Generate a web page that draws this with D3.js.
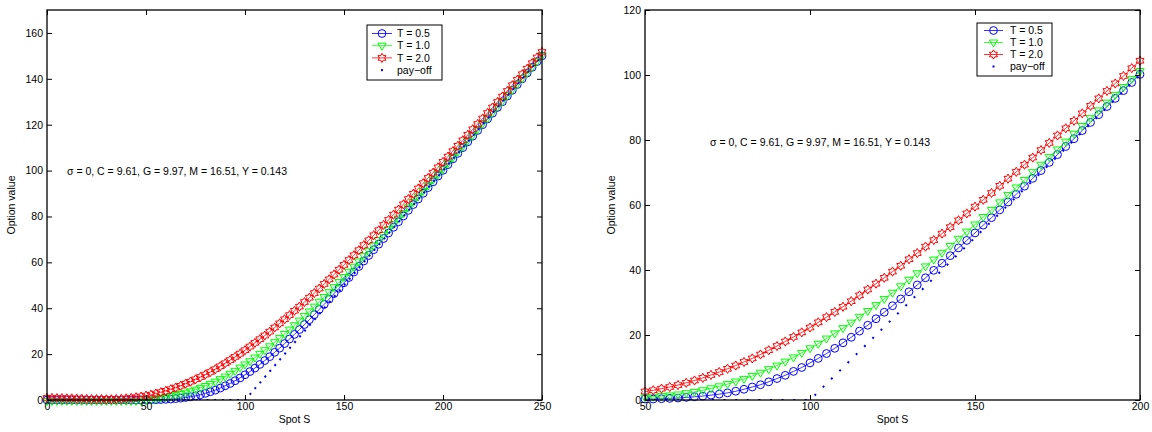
<!DOCTYPE html>
<html>
<head>
<meta charset="utf-8">
<script src="https://cdn.jsdelivr.net/npm/d3@7"></script>
<style>
  body { margin: 0; background: #fff; }
  text { font-family: "Liberation Sans", Arial, Helvetica, sans-serif; fill: #000; }
</style>
</head>
<body>
<script>
'use strict';

var width = 1152,
    height = 432;

// ---- data ----
// left panel: spot grid 0..250
var leftS = d3.range(0, 251, 2.5);
var leftT05 = [0,0,0,0,0,0,0,0,0,0,0,0,0,0,0,0,0,0,0,0,0,
  0.1,0.1,0.2,0.3,0.4,0.6,0.8,1.1,1.4,1.8,2.3,2.9,3.6,4.3,5.2,6.2,7.2,8.4,9.6,11.0,
  12.4,13.9,15.5,17.2,18.9,20.8,22.6,24.6,26.6,28.6,30.7,32.9,35.0,37.2,39.5,41.7,44.0,46.4,48.7,51.1,
  53.4,55.8,58.2,60.6,63.0,65.5,67.9,70.4,72.8,75.3,77.7,80.2,82.7,85.2,87.6,90.1,92.6,95.1,97.6,100.1,
  102.6,105.1,107.5,110.0,112.5,115.0,117.5,120.0,122.5,125.0,127.5,130.0,132.5,135.0,137.5,140.0,142.5,145.0,147.5,150.0];
var leftT10 = [-0.4,-0.4,-0.4,-0.4,-0.4,-0.4,-0.4,-0.4,-0.4,-0.4,-0.4,-0.4,-0.4,-0.4,-0.4,-0.4,-0.4,-0.4,-0.4,-0.3,-0.1,
  0.2,0.5,0.9,1.3,1.7,2.1,2.6,3.2,3.8,4.5,5.3,6.1,7.0,8.0,9.1,10.2,11.4,12.7,14.1,15.5,
  16.9,18.5,20.1,21.7,23.4,25.2,27.0,28.8,30.7,32.6,34.6,36.6,38.6,40.7,42.8,44.9,47.0,49.2,51.4,53.6,
  55.9,58.1,60.4,62.7,65.0,67.3,69.7,72.0,74.4,76.7,79.1,81.5,83.9,86.3,88.7,91.1,93.5,96.0,98.4,100.8,
  103.3,105.7,108.2,110.6,113.1,115.5,118.0,120.5,122.9,125.4,127.9,130.3,132.8,135.3,137.8,140.3,142.7,145.2,147.7,150.2];
var leftT20 = [0.9,0.9,0.8,0.8,0.7,0.7,0.6,0.6,0.5,0.4,0.4,0.4,0.3,0.3,0.4,0.5,0.7,0.9,1.2,1.5,1.9,
  2.3,2.8,3.4,4.0,4.7,5.4,6.2,7.1,8.0,9.0,10.0,11.1,12.2,13.4,14.7,16.0,17.4,18.8,20.2,21.7,
  23.3,24.9,26.5,28.1,29.8,31.6,33.4,35.2,37.0,38.9,40.7,42.7,44.6,46.6,48.6,50.6,52.6,54.7,56.8,58.9,
  61.0,63.1,65.3,67.5,69.6,71.8,74.0,76.3,78.5,80.8,83.0,85.3,87.6,89.9,92.2,94.5,96.8,99.1,101.4,103.8,
  106.1,108.5,110.8,113.2,115.6,118.0,120.3,122.7,125.1,127.5,129.9,132.3,134.7,137.2,139.6,142.0,144.4,146.8,149.3,151.7];

// right panel: spot grid 50..200
var rightS = d3.range(50, 201, 2.5);
var rightT05 = [0.3,0.3,0.4,0.5,0.6,0.8,1.0,1.2,1.5,1.8,2.2,2.7,3.3,4.0,4.7,5.6,6.6,7.6,8.8,10.0,11.4,
  12.8,14.3,15.9,17.6,19.3,21.2,23.0,25.0,27.0,29.0,31.1,33.3,35.4,37.6,39.9,42.1,44.4,46.8,49.1,51.4,
  53.8,56.1,58.5,60.9,63.3,65.8,68.2,70.6,73.1,75.5,78.0,80.4,82.9,85.4,87.8,90.3,92.8,95.2,97.7,100.2];
var rightT10 = [0.8,1.0,1.2,1.4,1.7,2.1,2.5,3.0,3.6,4.2,4.9,5.7,6.5,7.4,8.4,9.5,10.6,11.8,13.1,14.5,15.9,
  17.3,18.9,20.5,22.1,23.8,25.6,27.4,29.2,31.1,33.0,35.0,37.0,39.0,41.1,43.2,45.3,47.4,49.6,51.8,54.0,
  56.3,58.5,60.8,63.1,65.4,67.7,70.1,72.4,74.8,77.1,79.5,81.9,84.3,86.7,89.1,91.5,93.9,96.3,98.8,101.2];
var rightT20 = [2.6,3.0,3.5,4.0,4.6,5.3,6.0,6.8,7.7,8.6,9.6,10.6,11.7,12.8,14.0,15.3,16.6,18.0,19.4,20.8,22.3,
  23.9,25.5,27.1,28.7,30.4,32.2,34.0,35.8,37.6,39.5,41.3,43.3,45.2,47.2,49.2,51.2,53.2,55.3,57.4,59.5,
  61.6,63.7,65.9,68.1,70.2,72.4,74.6,76.9,79.1,81.4,83.6,85.9,88.2,90.5,92.8,95.1,97.4,99.7,102.1,104.4];

// pay-off kinks (strike 100)
var payoffS = [0, 100, 250];
var payoffV = [0, 0, 150];

var seriesNames = ['T = 0.5', 'T = 1.0', 'T = 2.0', 'pay\u2212off'];
var seriesColors = ['#0000ff', '#00ff00', '#ff0000'];
var seriesMarks = ['circle', 'tri', 'hex'];

var leftXTicks = [0, 50, 100, 150, 200, 250];
var leftYTicks = [0, 20, 40, 60, 80, 100, 120, 140, 160];
var rightXTicks = [50, 100, 150, 200];
var rightYTicks = [0, 20, 40, 60, 80, 100, 120];

var note = '\u03c3 = 0, C = 9.61, G = 9.97, M = 16.51, Y = 0.143';

// ---- drawing ----
var svg = d3.select('body').append('svg')
    .attr('width', width)
    .attr('height', height);

function hexagram(r) {
  var pts = [];
  for (var k = 0; k < 12; k++) {
    var a = -Math.PI / 2 + k * Math.PI / 6;
    var rr = (k % 2 === 0) ? r : r / Math.sqrt(3);
    pts.push([rr * Math.cos(a), rr * Math.sin(a)]);
  }
  return 'M' + pts.map(function(p) { return p[0].toFixed(2) + ',' + p[1].toFixed(2); }).join('L') + 'Z';
}

var markPaths = {
  circle: d3.symbol(d3.symbolCircle, 48)(),
  tri: 'M-4.2,-2.5L4.2,-2.5L0,4.5Z',
  hex: hexagram(4.6)
};

function panel(opt) {
  var g = svg.append('g');
  var x = d3.scaleLinear().domain(opt.xDomain).range([opt.x0, opt.x1]);
  var y = d3.scaleLinear().domain(opt.yDomain).range([400, 10]);

  var clipId = 'clip' + opt.id;
  g.append('clipPath').attr('id', clipId)
    .append('rect')
      .attr('x', opt.x0).attr('y', 10)
      .attr('width', opt.x1 - opt.x0).attr('height', 390);

  var line = d3.line()
      .x(function(d) { return x(d[0]); })
      .y(function(d) { return y(d[1]); });

  opt.series.forEach(function(vals, i) {
    var pts = opt.S.map(function(s, j) { return [s, vals[j]]; });
    var sg = g.append('g');
    sg.append('path')
      .attr('d', line(pts))
      .attr('fill', 'none')
      .attr('stroke', seriesColors[i])
      .attr('stroke-width', 0.8);
    sg.selectAll('path.mk').data(pts).enter()
      .append('path')
      .attr('class', 'mk')
      .attr('d', markPaths[seriesMarks[i]])
      .attr('transform', function(d) { return 'translate(' + x(d[0]) + ',' + y(d[1]) + ')'; })
      .attr('fill', 'none')
      .attr('stroke', seriesColors[i])
      .attr('stroke-width', 1);
  });

  // pay-off as dots
  g.append('path')
    .attr('clip-path', 'url(#' + clipId + ')')
    .attr('d', line(payoffS.map(function(s, j) { return [s, payoffV[j]]; })))
    .attr('fill', 'none')
    .attr('stroke', '#0000ff')
    .attr('stroke-width', 2)
    .attr('stroke-dasharray', opt.dash);

  // axes, ticks inward on all four sides
  g.append('g')
    .attr('transform', 'translate(0,400)')
    .call(d3.axisBottom(x).tickValues(opt.xTicks).tickSizeInner(-5).tickSizeOuter(0).tickPadding(3))
    .call(function(a) { a.select('.domain').remove(); });
  g.append('g')
    .attr('transform', 'translate(0,10)')
    .call(d3.axisTop(x).tickValues(opt.xTicks).tickSizeInner(-5).tickSizeOuter(0).tickFormat(''))
    .call(function(a) { a.select('.domain').remove(); });
  g.append('g')
    .attr('transform', 'translate(' + opt.x0 + ',0)')
    .call(d3.axisLeft(y).tickValues(opt.yTicks).tickSizeInner(-5).tickSizeOuter(0).tickPadding(4))
    .call(function(a) { a.select('.domain').remove(); });
  g.append('g')
    .attr('transform', 'translate(' + opt.x1 + ',0)')
    .call(d3.axisRight(y).tickValues(opt.yTicks).tickSizeInner(-5).tickSizeOuter(0).tickFormat(''))
    .call(function(a) { a.select('.domain').remove(); });
  g.selectAll('.tick text').attr('font-size', 10.5).attr('fill', '#000')
    .style('font-family', '"Liberation Sans", Arial, sans-serif');
  g.selectAll('.tick line').attr('stroke', '#000');

  g.append('rect')
    .attr('x', opt.x0).attr('y', 10)
    .attr('width', opt.x1 - opt.x0).attr('height', 390)
    .attr('fill', 'none')
    .attr('stroke', '#000')
    .attr('stroke-width', 1.3);

  // axis labels
  g.append('text')
    .attr('x', (opt.x0 + opt.x1) / 2).attr('y', 423)
    .attr('text-anchor', 'middle').attr('font-size', 10.5)
    .text('Spot S');
  g.append('text')
    .attr('transform', 'translate(' + opt.ylabX + ',205) rotate(-90)')
    .attr('text-anchor', 'middle').attr('font-size', 10.5)
    .text('Option value');

  // annotation
  g.append('text')
    .attr('x', opt.noteX).attr('y', opt.noteY)
    .attr('font-size', 10.5)
    .text(note);

  // legend
  var L = opt.legend;
  var lg = g.append('g');
  lg.append('rect')
    .attr('x', L.x).attr('y', L.y)
    .attr('width', L.w).attr('height', L.h)
    .attr('fill', '#fff').attr('stroke', '#000').attr('stroke-width', 1);
  seriesNames.forEach(function(name, i) {
    var ry = L.y + L.first + i * L.step;
    var cx = (L.l0 + L.l1) / 2;
    if (i < 3) {
      lg.append('line')
        .attr('x1', L.l0).attr('x2', L.l1).attr('y1', ry).attr('y2', ry)
        .attr('stroke', seriesColors[i]).attr('stroke-width', 0.8);
      lg.append('path')
        .attr('d', markPaths[seriesMarks[i]])
        .attr('transform', 'translate(' + cx + ',' + ry + ')')
        .attr('fill', 'none').attr('stroke', seriesColors[i]).attr('stroke-width', 1);
    } else {
      lg.append('rect')
        .attr('x', cx - 1).attr('y', ry - 1).attr('width', 2).attr('height', 2)
        .attr('fill', '#0000ff');
    }
    lg.append('text')
      .attr('x', L.tx).attr('y', ry).attr('dy', '0.36em')
      .attr('font-size', 10.5)
      .text(name);
  });
}

panel({
  id: 'L',
  x0: 47, x1: 542,
  xDomain: [0, 250], yDomain: [0, 170],
  S: leftS, series: [leftT05, leftT10, leftT20],
  xTicks: leftXTicks, yTicks: leftYTicks,
  dash: '2,5.6',
  ylabX: 15,
  noteX: 67, noteY: 175,
  legend: { x: 367, y: 25, w: 75, h: 55, first: 8.5, step: 12.2, l0: 372, l1: 392, tx: 397 }
});

panel({
  id: 'R',
  x0: 645, x1: 1140,
  xDomain: [50, 200], yDomain: [0, 120],
  S: rightS, series: [rightT05, rightT10, rightT20],
  xTicks: rightXTicks, yTicks: rightYTicks,
  dash: '2,9.6',
  ylabX: 615,
  noteX: 710, noteY: 146,
  legend: { x: 977, y: 23, w: 75, h: 53, first: 7.5, step: 12, l0: 984, l1: 1003, tx: 1010 }
});
</script>
</body>
</html>
